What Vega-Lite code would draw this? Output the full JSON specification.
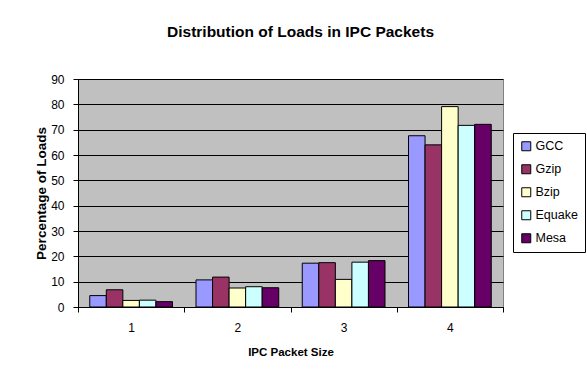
{
  "$schema": "https://vega.github.io/schema/vega-lite/v6.json",
  "width": 425,
  "height": 228,
  "autosize": {"type": "none"},
  "padding": {"left": 78, "top": 79, "right": 84, "bottom": 78},
  "background": "white",
  "title": {
    "text": "Distribution of Loads in IPC Packets",
    "font": "Liberation Sans",
    "fontSize": 15.5,
    "fontWeight": "bold",
    "color": "black",
    "anchor": "middle",
    "dx": 10,
    "offset": 33
  },
  "data": {
    "values": [
      {"size": "1", "bench": "GCC", "pct": 4.5},
      {"size": "1", "bench": "Gzip", "pct": 6.8},
      {"size": "1", "bench": "Bzip", "pct": 2.6},
      {"size": "1", "bench": "Equake", "pct": 2.7},
      {"size": "1", "bench": "Mesa", "pct": 2.1},
      {"size": "2", "bench": "GCC", "pct": 10.7},
      {"size": "2", "bench": "Gzip", "pct": 11.8},
      {"size": "2", "bench": "Bzip", "pct": 7.5},
      {"size": "2", "bench": "Equake", "pct": 8.0},
      {"size": "2", "bench": "Mesa", "pct": 7.6},
      {"size": "3", "bench": "GCC", "pct": 17.3},
      {"size": "3", "bench": "Gzip", "pct": 17.5},
      {"size": "3", "bench": "Bzip", "pct": 10.9},
      {"size": "3", "bench": "Equake", "pct": 17.7},
      {"size": "3", "bench": "Mesa", "pct": 18.3},
      {"size": "4", "bench": "GCC", "pct": 67.6},
      {"size": "4", "bench": "Gzip", "pct": 64.0},
      {"size": "4", "bench": "Bzip", "pct": 79.1},
      {"size": "4", "bench": "Equake", "pct": 71.7},
      {"size": "4", "bench": "Mesa", "pct": 72.1}
    ]
  },
  "mark": {"type": "bar", "stroke": "black", "strokeWidth": 1},
  "encoding": {
    "x": {
      "field": "size",
      "type": "nominal",
      "title": "IPC Packet Size",
      "scale": {"paddingInner": 0, "paddingOuter": 0},
      "axis": {
        "labelAngle": 0,
        "tickBand": "extent",
        "tickSize": 5,
        "labelPadding": 10,
        "titlePadding": 13,
        "titleFontSize": 11.5
      }
    },
    "xOffset": {
      "field": "bench",
      "type": "nominal",
      "sort": ["GCC", "Gzip", "Bzip", "Equake", "Mesa"],
      "scale": {"paddingInner": 0, "paddingOuter": 0.71}
    },
    "y": {
      "field": "pct",
      "type": "quantitative",
      "title": "Percentage of Loads",
      "scale": {"domain": [0, 90], "nice": false},
      "axis": {
        "values": [0, 10, 20, 30, 40, 50, 60, 70, 80, 90],
        "grid": true,
        "gridColor": "black",
        "gridOpacity": 1,
        "gridWidth": 1,
        "tickSize": 5,
        "labelPadding": 9,
        "titlePadding": 2,
        "titleFontSize": 13.5
      }
    },
    "color": {
      "field": "bench",
      "type": "nominal",
      "sort": ["GCC", "Gzip", "Bzip", "Equake", "Mesa"],
      "scale": {
        "domain": ["GCC", "Gzip", "Bzip", "Equake", "Mesa"],
        "range": ["#9999FF", "#993366", "#FFFFCC", "#CCFFFF", "#660066"]
      },
      "legend": {
        "title": null,
        "orient": "none",
        "legendX": 435,
        "legendY": 54,
        "strokeColor": "black",
        "fillColor": "white",
        "padding": 7,
        "symbolType": "square",
        "symbolSize": 81,
        "symbolStrokeColor": "black",
        "symbolStrokeWidth": 1,
        "symbolOpacity": 1,
        "labelFontSize": 12.5,
        "labelOffset": 3,
        "rowPadding": 9
      }
    }
  },
  "config": {
    "font": "Liberation Sans",
    "view": {"fill": "#C0C0C0", "stroke": "#808080", "strokeWidth": 1},
    "axis": {
      "domainColor": "black",
      "tickColor": "black",
      "labelColor": "black",
      "titleColor": "black",
      "labelFont": "Liberation Sans",
      "titleFont": "Liberation Sans",
      "labelFontSize": 12,
      "titleFontWeight": "bold"
    },
    "legend": {
      "labelFont": "Liberation Sans",
      "labelColor": "black"
    }
  }
}
